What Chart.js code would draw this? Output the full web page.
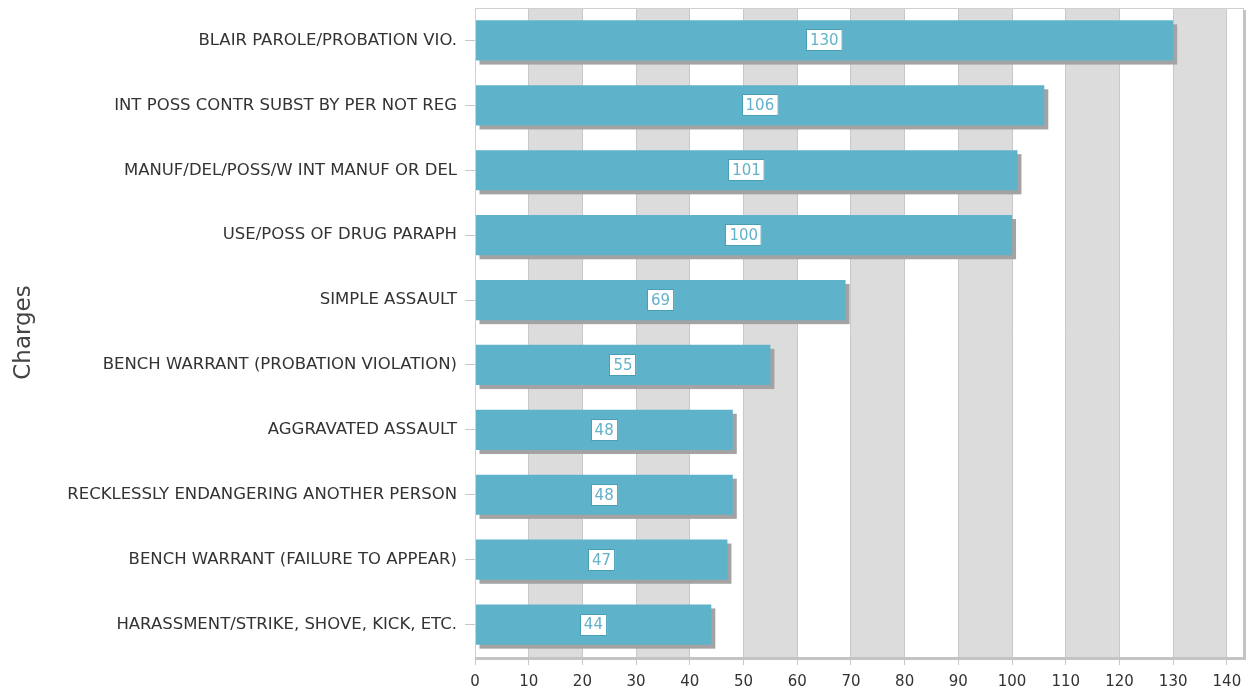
<!DOCTYPE html>
<html>
<head>
<meta charset="utf-8">
<script src="https://cdn.jsdelivr.net/npm/chart.js@4"></script>
<style>
  html, body { margin: 0; padding: 0; background: #fff; }
  #wrap { width: 1249px; height: 691px; }
</style>
</head>
<body>
<div id="wrap"><canvas id="grafico"></canvas></div>
<script>
const charges = [
  "BLAIR PAROLE/PROBATION VIO.",
  "INT POSS CONTR SUBST BY PER NOT REG",
  "MANUF/DEL/POSS/W INT MANUF OR DEL",
  "USE/POSS OF DRUG PARAPH",
  "SIMPLE ASSAULT",
  "BENCH WARRANT (PROBATION VIOLATION)",
  "AGGRAVATED ASSAULT",
  "RECKLESSLY ENDANGERING ANOTHER PERSON",
  "BENCH WARRANT (FAILURE TO APPEAR)",
  "HARASSMENT/STRIKE, SHOVE, KICK, ETC."
];
const counts = [130, 106, 101, 100, 69, 55, 48, 48, 47, 44];
const xTicks = [0, 10, 20, 30, 40, 50, 60, 70, 80, 90, 100, 110, 120, 130, 140];

const barColor = "#5eb3cb";
const fontFamily = "'DejaVu Sans', sans-serif";

// alternate grey bands + plot frame
const bandsPlugin = {
  id: "bands",
  beforeDraw(chart) {
    const { ctx, chartArea: a, scales: { x } } = chart;
    ctx.save();
    ctx.fillStyle = "#fff";
    ctx.fillRect(a.left, a.top, a.width, a.height);
    ctx.fillStyle = "#dcdcdc";
    for (let i = 0; i < xTicks.length - 1; i++) {
      if (i % 2 === 1) {
        const x0 = x.getPixelForValue(xTicks[i]);
        const x1 = x.getPixelForValue(xTicks[i + 1]);
        ctx.fillRect(x0, a.top, x1 - x0, a.height);
      }
    }
    ctx.restore();
  },
  afterDraw(chart) {
    const { ctx, chartArea: a } = chart;
    ctx.save();
    ctx.strokeStyle = "#d0d0d0";
    ctx.lineWidth = 1;
    ctx.strokeRect(a.left + 0.5, a.top + 0.5, a.width, a.height);
    // frame shadow right / bottom
    ctx.fillStyle = "#c4c4c4";
    ctx.fillRect(a.right, a.top + 2, 3, a.height + 1);
    ctx.fillRect(a.left, a.bottom, a.width + 3, 3);
    ctx.restore();
  }
};

// drop shadow behind each bar
const shadowPlugin = {
  id: "barShadow",
  beforeDatasetsDraw(chart) {
    const { ctx } = chart;
    const meta = chart.getDatasetMeta(0);
    ctx.save();
    ctx.fillStyle = "#a3a3a3";
    meta.data.forEach(bar => {
      const h = bar.height;
      ctx.fillRect(bar.base + 4, bar.y - h / 2 + 4, bar.x - bar.base, h);
    });
    ctx.restore();
  }
};

// value labels in white boxes, centred on each bar
const labelPlugin = {
  id: "valueLabels",
  afterDatasetsDraw(chart) {
    const { ctx } = chart;
    const meta = chart.getDatasetMeta(0);
    ctx.save();
    ctx.font = "15px " + fontFamily;
    ctx.textAlign = "center";
    ctx.textBaseline = "middle";
    meta.data.forEach((bar, i) => {
      const txt = String(counts[i]);
      const cx = (bar.base + bar.x) / 2;
      const w = ctx.measureText(txt).width + 8;
      const h = 22;
      ctx.fillStyle = "#fff";
      ctx.fillRect(Math.round(cx - w / 2), Math.round(bar.y - h / 2), w, h);
      ctx.strokeStyle = "#4a9fb8";
      ctx.lineWidth = 1;
      ctx.strokeRect(Math.round(cx - w / 2) + 0.5, Math.round(bar.y - h / 2) + 0.5, w - 1, h - 1);
      ctx.fillStyle = "#62b2c9";
      ctx.fillText(txt, cx, bar.y + 1);
    });
    ctx.restore();
  }
};

new Chart(document.getElementById("grafico"), {
  type: "bar",
  data: {
    labels: charges,
    datasets: [{
      data: counts,
      backgroundColor: barColor,
      borderWidth: 0,
      barPercentage: 0.62,
      categoryPercentage: 1
    }]
  },
  options: {
    indexAxis: "y",
    responsive: true,
    maintainAspectRatio: false,
    animation: false,
    layout: { padding: { top: 8, right: 6, bottom: 0, left: 0 } },
    plugins: {
      legend: { display: false },
      tooltip: { enabled: false }
    },
    scales: {
      x: {
        min: 0,
        max: 143,
        afterBuildTicks(scale) {
          scale.ticks = xTicks.map(v => ({ value: v }));
        },
        afterFit(scale) {
          scale.height = 34;
          scale.paddingLeft = 0;
          scale.paddingRight = 0;
        },
        grid: {
          color: "#c8c8c8",
          tickLength: 8,
          drawTicks: true
        },
        border: { display: false },
        ticks: {
          color: "#333",
          font: { family: fontFamily, size: 15 },
          padding: 8,
          maxRotation: 0
        }
      },
      y: {
        afterFit(scale) {
          scale.width = 475;
          scale.paddingTop = 0;
          scale.paddingBottom = 0;
        },
        grid: {
          offset: false,
          drawOnChartArea: false,
          color: "#c8c8c8",
          tickLength: 10
        },
        border: { display: false },
        ticks: {
          color: "#333",
          font: { family: fontFamily, size: 16.5 },
          padding: 8,
          autoSkip: false
        },
        title: {
          display: true,
          text: "Charges",
          color: "#444",
          font: { family: fontFamily, size: 23 },
          padding: { top: 10, bottom: 0 }
        }
      }
    }
  },
  plugins: [bandsPlugin, shadowPlugin, labelPlugin]
});
</script>
</body>
</html>
